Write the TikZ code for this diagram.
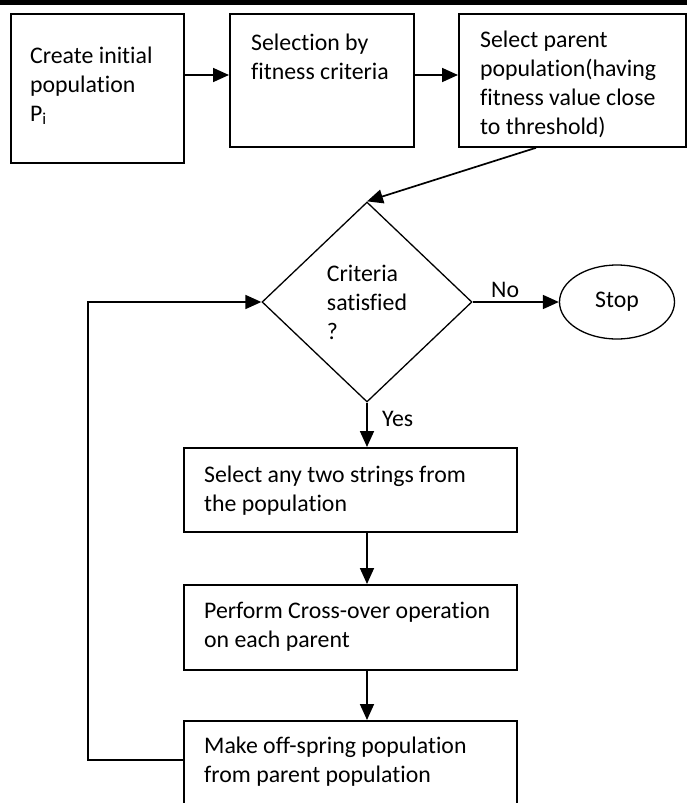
\documentclass[tikz,border=0pt]{standalone}
\usepackage{fontspec}
\setmainfont{Carlito}[Ligatures=NoCommon]
\usetikzlibrary{shapes.geometric,arrows.meta}

\tikzset{
  box/.style={draw, line width=1.8pt, anchor=north west, inner sep=0pt},
  txt/.style={anchor=north west, align=left, inner sep=0pt},
  arr/.style={line width=1.7pt, -{Triangle[length=16pt,width=14pt]}},
}

\begin{document}
\begin{tikzpicture}[x=1pt, y=-1pt, font=\fontsize{23.8}{29}\selectfont]
\useasboundingbox (0,0) rectangle (687,803);

\def\yt{13}; % top row
\def\yd{302}; % decision row
\def\xl{183}; % left of lower boxes
\def\ya{75}; % arrows of top row

% header rule
\fill[black] (0,0) rectangle (687,5);

% top row
\node[box, minimum width=173, minimum height=149] (init) at (10,\yt) {};
\node[box, minimum width=184, minimum height=133] (sel) at (229,\yt) {};
\node[box, minimum width=227, minimum height=133] (par) at (458,\yt) {};
\node[txt] (initT) at (30,46.5) {Create initial\\population\\P\textsubscript{i}};
\node[txt] (selT) at (251,33.5) {Selection by\\fitness criteria};
\node[txt] (parT) at (480,30.5) {Select parent\\population(having\\fitness value close\\to threshold)};

% decision
\node[diamond, draw, line width=1.3pt, minimum width=210, minimum height=200, align=left, inner sep=0pt] (crit) at (367,\yd) {Criteria\\satisfied\\?};
\node[ellipse, draw, line width=1.3pt, minimum width=115, minimum height=74] (stop) at (617,\yd) {Stop};

% lower boxes
\node[box, minimum width=333, minimum height=84] (two) at (\xl,447) {};
\node[box, minimum width=333, minimum height=85] (cross) at (\xl,584) {};
\node[box, minimum width=333, minimum height=92] (off) at (\xl,720) {};
\node[txt] (twoT) at (204,465.5) {Select any two strings from\\the population};
\node[txt] (crossT) at (204,601.5) {Perform Cross-over operation\\on each parent};
\node[txt] (offT) at (204,736.5) {Make off-spring population\\from parent population};

\coordinate (bend) at (88,760);

% connectors
\draw[arr] (init.east |- 0,\ya) -- (sel.west |- 0,\ya);
\draw[arr] (sel.east |- 0,\ya) -- (par.west |- 0,\ya);
\draw[arr] ([xshift=78pt]par.south west) -- (crit.north);
\draw[arr] (crit.east) -- (stop.west);
\draw[arr] (crit.south) -- (crit.south |- two.north);
\draw[arr] (crit.south |- two.south) -- (crit.south |- cross.north);
\draw[arr] (crit.south |- cross.south) -- (crit.south |- off.north);
\draw[arr] (off.west |- bend) -- (bend) |- (crit.west);

\node[anchor=base west, inner sep=0pt] (noL) at (491,297) {No};
\node[anchor=base west, inner sep=0pt] (yesL) at (382,426) {Yes};

\end{tikzpicture}
\end{document}
